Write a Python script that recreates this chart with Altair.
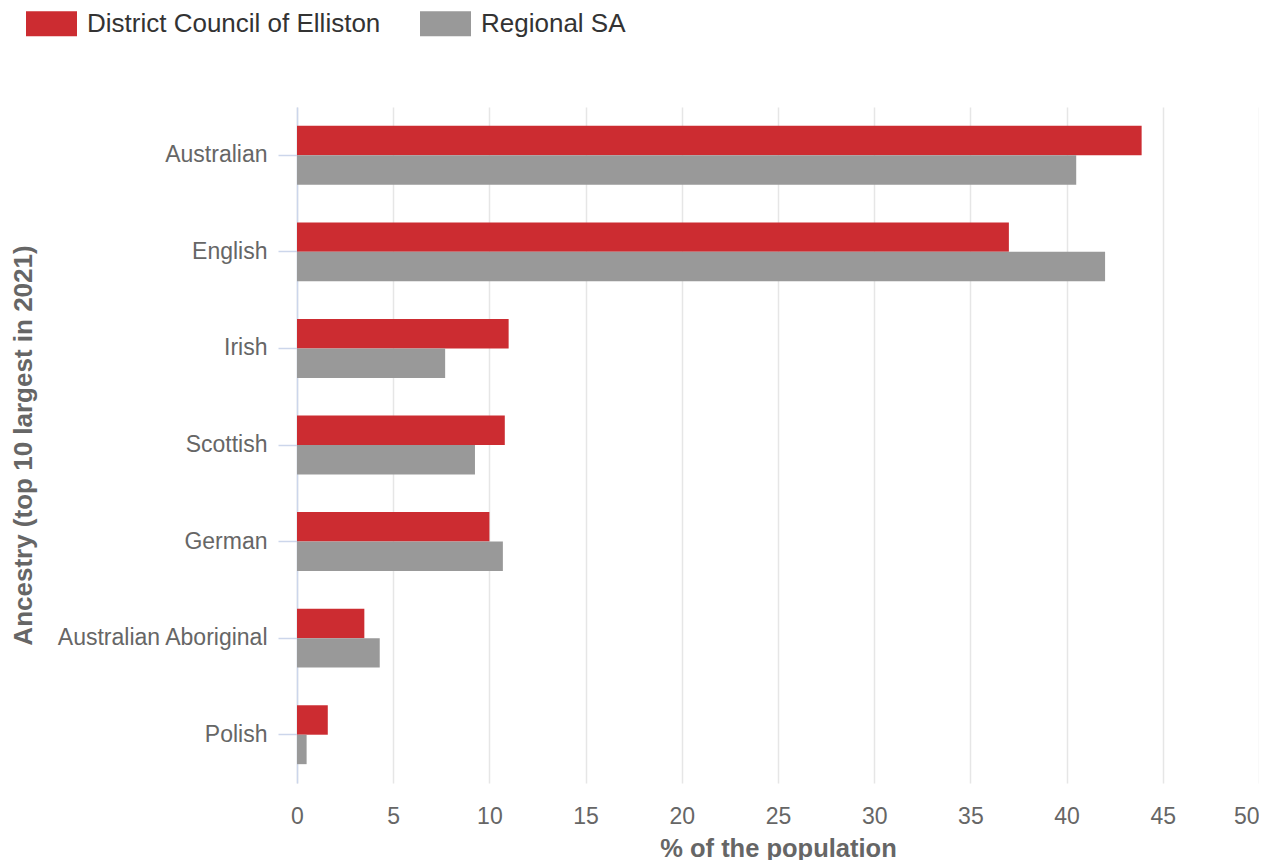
import altair as alt
import pandas as pd

categories = ["Australian", "English", "Irish", "Scottish", "German",
              "Australian Aboriginal", "Polish"]
elliston = [43.9, 37.0, 11.0, 10.8, 10.0, 3.5, 1.6]
regional = [40.5, 42.0, 7.7, 9.25, 10.7, 4.3, 0.5]
series = ["District Council of Elliston", "Regional SA"]
colors = ["#cc2c31", "#999999"]
x_ticks = [0, 5, 10, 15, 20, 25, 30, 35, 40, 45, 50]

rows = []
for i, c in enumerate(categories):
    rows.append({"ancestry": c, "series": series[0], "value": elliston[i], "order": 0})
    rows.append({"ancestry": c, "series": series[1], "value": regional[i], "order": 1})
df = pd.DataFrame(rows)

FONT = "Liberation Sans"

chart = alt.Chart(df).mark_bar().encode(
    x=alt.X("value:Q",
            scale=alt.Scale(domain=[0, 50], nice=False),
            axis=alt.Axis(values=x_ticks, title="% of the population",
                          domain=False, ticks=False, tickSize=0,
                          labelPadding=40, labelBaseline="alphabetic",
                          labelFlush=False,
                          labelAlign=alt.ExprRef("datum.value >= 50 ? 'right' : 'center'"),
                          labelFontSize=23, labelColor="#666666", labelFont=FONT,
                          grid=True, gridColor="#e6e6e6", gridWidth=1.5,
                          titleFontSize=25.5, titleFontWeight="bold",
                          titleColor="#666666", titleFont=FONT,
                          titleBaseline="alphabetic", titleY=73)),
    y=alt.Y("ancestry:N", sort=categories,
            scale=alt.Scale(paddingInner=0.39, paddingOuter=0.195),
            axis=alt.Axis(title="Ancestry (top 10 largest in 2021)",
                          domain=True, domainColor="#ccd6eb", domainWidth=1.5,
                          ticks=True, tickColor="#ccd6eb", tickWidth=1.5, tickSize=19,
                          labelPadding=11, labelFontSize=23, labelColor="#666666",
                          labelFont=FONT, labelLimit=400, grid=False,
                          titleFontSize=26, titleFontWeight="bold",
                          titleColor="#666666", titleFont=FONT,
                          titleAngle=-90, titleBaseline="alphabetic",
                          titleX=-266, titleY=338)),
    yOffset=alt.YOffset("series:N", sort=series),
    color=alt.Color("series:N", sort=series,
                    scale=alt.Scale(domain=series, range=colors),
                    legend=alt.Legend(title=None, orient="none",
                                      legendX=-271, legendY=-109,
                                      direction="horizontal", columns=2,
                                      columnPadding=39,
                                      symbolType="M-1,-0.49H1V0.49H-1Z",
                                      symbolSize=2601, symbolStrokeWidth=0,
                                      symbolOpacity=1,
                                      labelOffset=10, labelFontSize=26,
                                      labelColor="#333333", labelFont=FONT,
                                      labelLimit=500)),
).properties(
    width=962, height=676,
    autosize=alt.AutoSizeParams(type="none"),
    padding={"left": 289, "top": 99, "right": 0, "bottom": 77},
).configure_view(stroke=None).configure_axis(labelFont=FONT, titleFont=FONT)

chart.save("out.html", embed_options={"renderer": "svg", "actions": False})
